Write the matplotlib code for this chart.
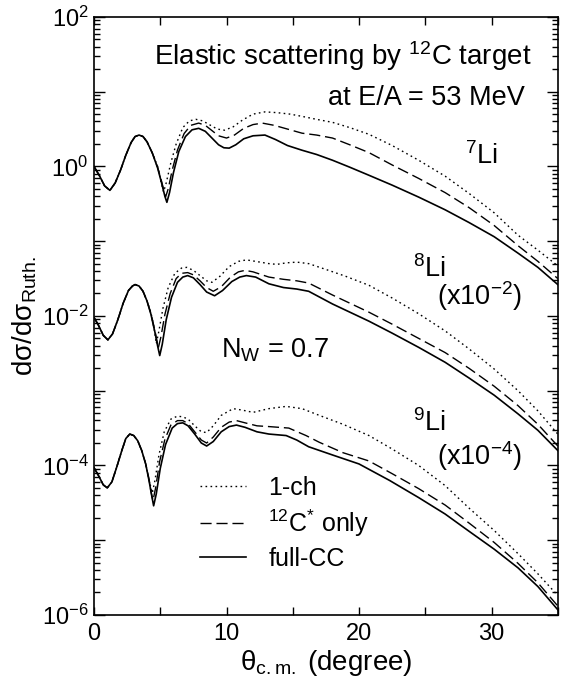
import numpy as np
import matplotlib
matplotlib.use("Agg")
import matplotlib.pyplot as plt
from matplotlib.ticker import FixedLocator, LogLocator, FuncFormatter, NullFormatter

plt.rcParams['font.family'] = ['Liberation Sans', 'DejaVu Sans']
plt.rcParams['mathtext.fontset'] = 'custom'
plt.rcParams['mathtext.rm'] = 'Liberation Sans'
plt.rcParams['mathtext.it'] = 'Liberation Sans:italic'
plt.rcParams['mathtext.bf'] = 'Liberation Sans:bold'

# values are log10(dsigma/dsigma_Ruth)
# 7Li  -- the three calculations coincide up to ~4.4 deg
li7_th0 = [0, 0.4, 0.8, 1.2, 1.6, 2.0, 2.4, 2.8, 3.1, 3.4, 3.7, 4.0, 4.4]
li7_lg0 = [0.0, -0.12, -0.26, -0.32, -0.22, -0.05, 0.15, 0.32, 0.40, 0.42, 0.40, 0.33, 0.18]
li7_full_th = [4.8, 5.1, 5.35, 5.5, 5.7, 6.0, 6.4, 6.9, 7.4, 7.9, 8.4, 8.9, 9.4, 9.8, 10.2, 10.7, 11.3, 12.0,
               12.9, 13.7, 14.6, 15.7, 16.8, 18.0, 19.3, 20.75, 22.5, 24.5, 26.5, 28.3, 30.2, 32.0, 33.5, 35]
li7_full_lg = [-0.02, -0.22, -0.40, -0.48, -0.35, -0.08, 0.20, 0.40, 0.49, 0.51, 0.47, 0.38, 0.29, 0.25, 0.245,
               0.29, 0.37, 0.41, 0.42, 0.36, 0.28, 0.217, 0.16, 0.083, -0.01, -0.118, -0.25, -0.41, -0.58, -0.75,
               -0.94, -1.16, -1.35, -1.58]
li7_c12_th = [4.8, 5.1, 5.4, 5.6, 5.9, 6.3, 6.8, 7.3, 7.9, 8.4, 8.9, 9.4, 10.0, 10.6, 11.3, 12.0, 12.7, 13.6,
              14.6, 15.7, 16.8, 18.0, 19.3, 20.75, 22.5, 24.5, 26.5, 28.3, 30.2, 32.0, 33.5, 35]
li7_c12_lg = [-0.01, -0.20, -0.41, -0.30, -0.05, 0.22, 0.44, 0.55, 0.58, 0.55, 0.48, 0.41, 0.38, 0.42, 0.51,
              0.56, 0.58, 0.55, 0.50, 0.445, 0.42, 0.38, 0.29, 0.185, 0.02, -0.16, -0.35, -0.55, -0.79, -1.06,
              -1.27, -1.50]
li7_1ch_th = [4.8, 5.05, 5.25, 5.45, 5.8, 6.2, 6.7, 7.2, 7.7, 8.2, 8.8, 9.3, 9.85, 10.5, 11.2, 12.0, 12.9, 13.8,
              14.8, 15.7, 16.8, 18.0, 19.3, 20.75, 22.5, 24.5, 26.5, 28.3, 30.2, 32.0, 33.5, 35]
li7_1ch_lg = [0.0, -0.20, -0.34, -0.22, 0.05, 0.30, 0.52, 0.61, 0.63, 0.61, 0.55, 0.50, 0.485, 0.53, 0.62, 0.70,
              0.73, 0.72, 0.70, 0.67, 0.63, 0.59, 0.52, 0.43, 0.28, 0.083, -0.13, -0.36, -0.62, -0.92, -1.12, -1.33]

# 8Li (x10^-2)
li8_th0 = [0, 0.35, 0.7, 1.05, 1.4, 1.8, 2.2, 2.6, 2.9, 3.1, 3.4, 3.7, 4.0]
li8_lg0 = [-2.02, -2.13, -2.26, -2.32, -2.24, -2.05, -1.83, -1.66, -1.60, -1.58, -1.60, -1.67, -1.80]
li8_full_th = [4.3, 4.6, 4.8, 4.96, 5.15, 5.45, 5.85, 6.3, 6.7, 7.07, 7.5, 8.0, 8.5, 9.1, 9.7, 10.4, 11.0, 11.5,
               12.2, 13.2, 14.3, 15.3, 16.2, 18.0, 20.75, 22.5, 24.5, 26.5, 28.3, 30.2, 32.0, 33.5, 35]
li8_full_lg = [-1.98, -2.22, -2.40, -2.53, -2.38, -2.05, -1.75, -1.55, -1.48, -1.46, -1.49, -1.58, -1.68, -1.73,
               -1.66, -1.54, -1.48, -1.46, -1.48, -1.57, -1.62, -1.64, -1.67, -1.84, -2.07, -2.23, -2.42, -2.62,
               -2.83, -3.06, -3.31, -3.53, -3.80]
li8_c12_th = [4.3, 4.6, 4.85, 5.05, 5.35, 5.75, 6.2, 6.6, 7.07, 7.5, 8.0, 8.5, 9.0, 9.6, 10.3, 10.9, 11.4, 12.0,
              13.2, 14.3, 15.3, 16.2, 18.0, 20.75, 22.5, 24.5, 26.5, 28.3, 30.2, 32.0, 33.5, 35]
li8_c12_lg = [-1.97, -2.20, -2.43, -2.28, -1.98, -1.70, -1.50, -1.43, -1.42, -1.45, -1.53, -1.62, -1.67, -1.61,
              -1.48, -1.41, -1.39, -1.41, -1.48, -1.51, -1.53, -1.56, -1.72, -1.95, -2.11, -2.30, -2.49, -2.70,
              -2.94, -3.20, -3.45, -3.74]
li8_1ch_th = [4.3, 4.55, 4.7, 4.9, 5.2, 5.6, 6.1, 6.6, 7.0, 7.5, 8.0, 8.5, 8.9, 9.5, 10.2, 10.9, 11.5, 12.2,
              13.2, 13.8, 14.5, 15.3, 16.2, 17.7, 19.0, 20.75, 22.5, 24.5, 26.5, 28.3, 30.2, 32.0, 33.5, 35]
li8_1ch_lg = [-1.96, -2.18, -2.37, -2.20, -1.90, -1.62, -1.43, -1.36, -1.35, -1.39, -1.46, -1.53, -1.55, -1.47,
              -1.34, -1.27, -1.25, -1.27, -1.30, -1.31, -1.29, -1.28, -1.30, -1.39, -1.47, -1.59, -1.76, -1.97,
              -2.20, -2.44, -2.71, -3.00, -3.27, -3.58]

# 9Li (x10^-4)
li9_th0 = [0, 0.35, 0.7, 1.0, 1.35, 1.7, 2.1, 2.4, 2.7, 3.0, 3.3, 3.6, 3.9]
li9_lg0 = [-4.03, -4.14, -4.26, -4.30, -4.22, -4.03, -3.80, -3.64, -3.58, -3.60, -3.67, -3.80, -3.98]
li9_full_th = [4.15, 4.35, 4.5, 4.7, 5.0, 5.4, 5.9, 6.3, 6.7, 7.1, 7.6, 8.1, 8.5, 9.0, 9.6, 10.2, 10.75, 11.4,
               12.3, 13.2, 14.5, 15.3, 16.2, 18.0, 20.0, 22.3, 24.5, 26.5, 28.3, 30.2, 32.0, 33.5, 35]
li9_full_lg = [-4.20, -4.40, -4.54, -4.38, -4.04, -3.72, -3.50, -3.44, -3.43, -3.47, -3.58, -3.70, -3.74, -3.68,
               -3.55, -3.48, -3.46, -3.49, -3.55, -3.58, -3.60, -3.66, -3.75, -3.86, -3.98, -4.20, -4.43, -4.65,
               -4.88, -5.12, -5.37, -5.62, -5.93]
li9_c12_th = [4.15, 4.3, 4.45, 4.65, 4.95, 5.35, 5.8, 6.3, 6.7, 7.1, 7.6, 8.1, 8.5, 9.0, 9.6, 10.2, 10.75, 11.4,
              12.3, 13.2, 14.7, 16.0, 17.0, 18.8, 20.75, 22.5, 24.5, 26.5, 28.3, 30.2, 32.0, 33.5, 35]
li9_c12_lg = [-4.18, -4.35, -4.47, -4.30, -3.95, -3.65, -3.46, -3.40, -3.40, -3.44, -3.55, -3.66, -3.70, -3.62,
              -3.49, -3.42, -3.40, -3.43, -3.47, -3.48, -3.50, -3.60, -3.69, -3.83, -3.94, -4.11, -4.31, -4.53,
              -4.77, -5.03, -5.31, -5.57, -5.88]
li9_1ch_th = [4.1, 4.3, 4.4, 4.6, 4.9, 5.3, 5.8, 6.3, 6.7, 7.1, 7.6, 8.1, 8.5, 9.0, 9.6, 10.5, 11.2, 12.0, 13.2,
              14.5, 15.7, 17.0, 18.8, 20.75, 22.5, 24.5, 26.5, 28.3, 30.2, 32.0, 33.5, 35]
li9_1ch_lg = [-4.15, -4.30, -4.37, -4.20, -3.86, -3.55, -3.38, -3.34, -3.35, -3.38, -3.47, -3.55, -3.56, -3.47,
              -3.33, -3.24, -3.26, -3.29, -3.24, -3.21, -3.24, -3.33, -3.45, -3.60, -3.78, -4.00, -4.27, -4.57,
              -4.87, -5.18, -5.45, -5.74]

fig = plt.figure(figsize=(5.68, 6.78), dpi=100)
ax = fig.add_axes([0.1655, 0.093, 0.8165, 0.882])

dot = dict(color='k', lw=1.0, linestyle=(0, (1.2, 2.4)))
dash = dict(color='k', lw=1.0, linestyle=(0, (8, 3.5)))
solid = dict(color='k', lw=1.2, linestyle='-')

sets = [
    (li7_th0, li7_lg0, li7_1ch_th, li7_1ch_lg, li7_c12_th, li7_c12_lg, li7_full_th, li7_full_lg),
    (li8_th0, li8_lg0, li8_1ch_th, li8_1ch_lg, li8_c12_th, li8_c12_lg, li8_full_th, li8_full_lg),
    (li9_th0, li9_lg0, li9_1ch_th, li9_1ch_lg, li9_c12_th, li9_c12_lg, li9_full_th, li9_full_lg),
]
for i, (t0, l0, t1, l1, t2, l2, t3, l3) in enumerate(sets):
    lab = (i == 0)
    ax.plot(t0 + t1, 10 ** np.array(l0 + l1), label='1-ch' if lab else None, **dot)
    ax.plot(t0 + t2, 10 ** np.array(l0 + l2), label='$^{12}$C$^{*}$ only' if lab else None, **dash)
    ax.plot(t0 + t3, 10 ** np.array(l0 + l3), label='full-CC' if lab else None, **solid)

ax.set_yscale('log')
ax.set_xlim(0, 35)
ax.set_ylim(1e-6, 1e2)

ax.xaxis.set_major_locator(FixedLocator([0, 10, 20, 30]))
ax.xaxis.set_minor_locator(FixedLocator([5, 15, 25, 35]))
ax.yaxis.set_major_locator(LogLocator(base=10, numticks=20))
ax.yaxis.set_minor_locator(LogLocator(base=10, subs=np.arange(2, 10), numticks=20))
ax.yaxis.set_minor_formatter(NullFormatter())


def yfmt(v, pos):
    e = int(round(np.log10(v)))
    if e % 2:
        return ''
    return r'$\mathdefault{10^{%d}}$' % e


ax.yaxis.set_major_formatter(FuncFormatter(yfmt))
ax.tick_params(which='both', direction='in', top=True, right=True, labelsize=17, width=1.0)
ax.tick_params(axis='x', which='both', length=6, pad=6)
ax.tick_params(axis='y', which='major', length=8, pad=4)
ax.tick_params(axis='y', which='minor', length=4)
for s in ax.spines.values():
    s.set_linewidth(1.2)

ax.set_xlabel(r'θ$_{\mathrm{c.m.}}$ (degree)', fontsize=20, labelpad=2)
ax.set_ylabel(r'dσ/dσ$_{\mathrm{Ruth.}}$', fontsize=20, labelpad=2)

fs = 19.5
ax.text(0.944, 0.920, r'Elastic scattering by $^{12}$C target', transform=ax.transAxes,
        ha='right', va='baseline', fontsize=20)
ax.text(0.929, 0.853, 'at E/A = 53 MeV', transform=ax.transAxes,
        ha='right', va='baseline', fontsize=fs)
ax.text(28.0, 10 ** 0.03, r'$^{7}$Li', ha='left', va='baseline', fontsize=fs)
ax.text(24.1, 10 ** -1.485, r'$^{8}$Li', ha='left', va='baseline', fontsize=fs)
ax.text(25.9, 10 ** -1.86, r'(x10$^{-2}$)', ha='left', va='baseline', fontsize=fs)
ax.text(24.1, 10 ** -3.54, r'$^{9}$Li', ha='left', va='baseline', fontsize=fs)
ax.text(25.9, 10 ** -4.0, r'(x10$^{-4}$)', ha='left', va='baseline', fontsize=fs)
ax.text(9.6, 10 ** -2.56, r'N$_{\mathrm{W}}$ = 0.7', ha='left', va='baseline', fontsize=fs)

ax.legend(loc='upper left', bbox_to_anchor=(0.228, 0.232), frameon=False, fontsize=18,
          handlelength=1.85, handletextpad=0.9, labelspacing=0.3, borderpad=0, borderaxespad=0)

fig.savefig('out.png', dpi=100)
